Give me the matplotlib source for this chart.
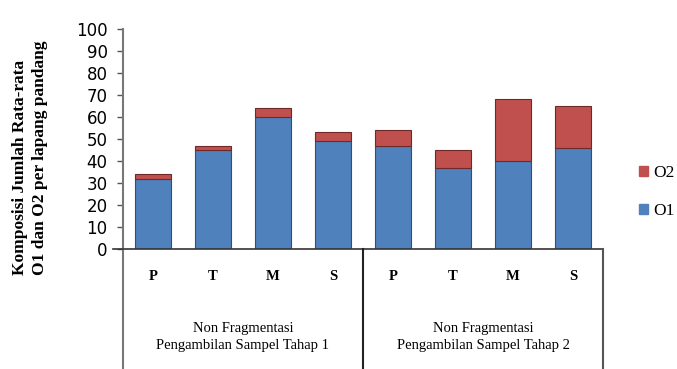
import matplotlib
matplotlib.use("Agg")
import matplotlib.pyplot as plt
import numpy as np

categories = ["P", "T", "M", "S", "P", "T", "M", "S"]
groups = ["Non Fragmentasi\nPengambilan Sampel Tahap 1",
          "Non Fragmentasi\nPengambilan Sampel Tahap 2"]
o1 = [32, 45, 60, 49, 47, 37, 40, 46]
o2 = [2, 2, 4, 4, 7, 8, 28, 19]
yticks = list(range(0, 101, 10))

blue = "#4F81BD"
red = "#C0504D"
W, H = 677, 369
fig = plt.figure(figsize=(W / 100, H / 100), dpi=100)
L, R, B, T = 123 / W, 603 / W, 1 - 249 / H, 1 - 29 / H
ax = fig.add_axes([L, B, R - L, T - B])
x = np.arange(len(categories))
ax.bar(x, o1, width=0.6, color=blue, edgecolor="#2E4F7A", linewidth=0.8, label="O1")
ax.bar(x, o2, width=0.6, bottom=o1, color=red, edgecolor="#6E2A28", linewidth=0.8, label="O2")
ax.set_xlim(-0.5, len(categories) - 0.5)
ax.set_ylim(0, 100)
ax.set_yticks(yticks)
ax.tick_params(axis="y", labelsize=12, length=4, width=1, color="#555555",
               direction="out", pad=7)
for lab in ax.get_yticklabels():
    lab.set_fontfamily("DejaVu Sans")
ax.set_xticks([])
for s in ["top", "right"]:
    ax.spines[s].set_visible(False)
ax.spines["left"].set_color("#777777")
ax.spines["left"].set_linewidth(1.5)
ax.spines["bottom"].set_color("#333333")
ax.spines["bottom"].set_linewidth(1.2)

# category table below axis
def fx(px):
    return px / W
def fy(py):
    return 1 - py / H

for px, col in [(123, "#777777"), (363, "#222222"), (603, "#555555")]:
    fig.add_artist(plt.Line2D([fx(px), fx(px)], [fy(249), fy(369)], color=col, lw=1.5))
fig.add_artist(plt.Line2D([fx(113), fx(123)], [fy(249), fy(249)], color="#333333", lw=1.2))

for i, c in enumerate(categories):
    xp = 123 + 60 * i + 30
    fig.text(fx(xp), fy(277), c, ha="center", va="center", fontfamily="Liberation Serif",
             fontweight="bold", fontsize=10.5)
for j, g in enumerate(groups):
    xp = 123 + 240 * j + 120
    fig.text(fx(xp), fy(337), g, ha="center", va="center", fontfamily="Liberation Serif",
             fontsize=10.5, linespacing=1.35)

fig.text(fx(30), fy(275), "Komposisi Jumlah Rata-rata\nO1 dan O2 per lapang pandang",
         rotation=90, ha="center", va="bottom", multialignment="left",
         fontfamily="Liberation Serif", fontweight="bold", fontsize=12.5, linespacing=1.4)

h1 = plt.Rectangle((0, 0), 1, 1, color=blue)
h2 = plt.Rectangle((0, 0), 1, 1, color=red)
fig.legend([h2, h1], ["O2", "O1"], loc="center left", bbox_to_anchor=(fx(639), fy(192)),
           frameon=False, prop={"family": "Liberation Serif", "size": 12.5},
           handlelength=0.5, handleheight=0.5, handletextpad=0.3, labelspacing=1.3,
           borderaxespad=0, borderpad=0)

fig.savefig("out.png", dpi=100)
